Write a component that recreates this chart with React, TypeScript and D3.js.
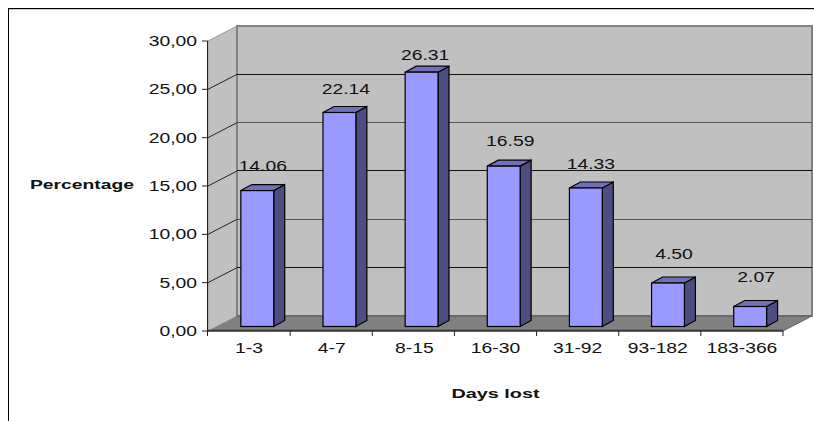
import React from "react";
import * as d3 from "d3";

const categories = ["1-3", "4-7", "8-15", "16-30", "31-92", "93-182", "183-366"];
const values = [14.06, 22.14, 26.31, 16.59, 14.33, 4.5, 2.07];
const valueLabels = ["14.06", "22.14", "26.31", "16.59", "14.33", "4.50", "2.07"];
const yTicks = [0, 5, 10, 15, 20, 25, 30];
const yTickLabels = ["0,00", "5,00", "10,00", "15,00", "20,00", "25,00", "30,00"];
const labelGaps = [20, 18, 12, 20, 19, 24, 24];
const labelShifts = [0, 1, -2, 1, -0.5, 0.5, 0.5];
const categoryShifts = [0, 0.5, 1, 0, 0, -2, 0];

const X0 = 208, X1 = 783, Y0 = 331, Y1 = 41;
const DX = 29, DY = 15;
const BAR_DX = 11, BAR_DY = 6;
const FONT = "'Liberation Sans', Arial, sans-serif";
const STRETCH = 1.38;

const y = d3.scaleLinear().domain([0, 30]).range([Y0, Y1]);
const x = d3.scaleBand<string>().domain(categories).range([X0, X1]).paddingInner(0).paddingOuter(0);

function T({ x: px, y: py, anchor = "middle", bold = false, size = 14, sx = STRETCH, children }: any) {
  return (
    <text
      transform={`translate(${px},${py}) scale(${sx},1)`}
      textAnchor={anchor}
      fontFamily={FONT}
      fontSize={size}
      fontWeight={bold ? 700 : 400}
      fill="#111"
    >
      {children}
    </text>
  );
}

const poly = (pts: number[][]) => pts.map((p) => p.join(",")).join(" ");

export default function App() {
  const band = x.bandwidth();
  return (
    <svg width={814} height={421} style={{ position: "absolute", left: 0, top: 0, background: "#fff" }}>
      <rect x={8} y={9} width={806} height={1} fill="#ccc" />
      <line x1={8} y1={8.5} x2={814} y2={8.5} stroke="#000" />
      <line x1={8.5} y1={8} x2={8.5} y2={421} stroke="#000" />

      {/* walls */}
      <polygon points={poly([[X0, Y1], [X0 + DX, Y1 - DY], [X0 + DX, Y0 - DY], [X0, Y0]])} fill="#c0c0c0" stroke="#999" />
      <rect x={X0 + DX} y={Y1 - DY} width={X1 - X0} height={Y0 - Y1} fill="#c0c0c0" stroke="#808080" strokeWidth={2} />
      <polygon points={poly([[X0, Y0], [X0 + DX, Y0 - DY], [X1 + DX, Y0 - DY], [X1, Y0]])} fill="#808080" />
      <line x1={X0 + DX} y1={Y0 - DY} x2={X1 + DX} y2={Y0 - DY} stroke="#555" />

      {/* gridlines */}
      {yTicks.slice(1, -1).map((t) => {
        const gy = Math.round(y(t) - DY - 0.6) + 0.5;
        return (
          <g key={t} stroke={t % 10 === 0 ? "#555" : "#111"} strokeWidth={1}>
            <line x1={X0} y1={y(t)} x2={X0 + DX} y2={y(t) - DY} stroke="#222" />
            <line x1={X0 + DX} y1={gy} x2={X1 + DX} y2={gy} />
          </g>
        );
      })}

      {/* axes */}
      <line x1={X0 - 0.5} y1={Y1} x2={X0 - 0.5} y2={Y0 + 5} stroke="#222" />
      <line x1={X0} y1={Y0 - 0.2} x2={X1} y2={Y0 - 0.2} stroke="#333" strokeWidth={2} />
      <line x1={X1} y1={Y0} x2={X1 + DX} y2={Y0 - DY} stroke="#666" />
      {yTicks.map((t, i) => (
        <g key={t}>
          <line x1={X0 - 6} y1={y(t)} x2={X0} y2={y(t)} stroke="#222" />
          <T x={X0 - 11} y={y(t) + 5} anchor="end">{yTickLabels[i]}</T>
        </g>
      ))}
      {categories.map((c) => (
        <line key={c} x1={(x(c) as number) + band} y1={Y0} x2={(x(c) as number) + band} y2={Y0 + 5} stroke="#222" />
      ))}

      {/* bars */}
      {categories.map((c, i) => {
        const left = (x(c) as number) + band * 0.4;
        const w = band * 0.4;
        const base = Y0 - 4.5;
        const top = base - (y(0) - y(values[i]));
        return (
          <g key={c} stroke="#000" strokeWidth={1.2} strokeLinejoin="miter">
            <polygon points={poly([[left + w, top], [left + w + BAR_DX, top - BAR_DY], [left + w + BAR_DX, base - BAR_DY], [left + w, base]])} fill="#4d4d80" />
            <polygon points={poly([[left, top], [left + BAR_DX, top - BAR_DY], [left + w + BAR_DX, top - BAR_DY], [left + w, top]])} fill="#7070bb" />
            <rect x={left} y={top} width={w} height={base - top} fill="#9999ff" />
          </g>
        );
      })}

      {/* value labels */}
      {categories.map((c, i) => {
        const left = (x(c) as number) + band * 0.4;
        const base = Y0 - 4.5;
        const top = base - (y(0) - y(values[i]));
        return (
          <T key={c} x={left + band * 0.2 + BAR_DX / 2 + labelShifts[i]} y={top - labelGaps[i]}>
            {valueLabels[i]}
          </T>
        );
      })}

      {/* category labels */}
      {categories.map((c, i) => (
        <T key={c} x={(x(c) as number) + band / 2 + categoryShifts[i]} y={353}>{c}</T>
      ))}

      <T x={30} y={189} anchor="start" bold size={13.5} sx={1.43}>Percentage</T>
      <T x={495.5} y={398} bold size={13.5} sx={1.47}>Days lost</T>
    </svg>
  );
}
